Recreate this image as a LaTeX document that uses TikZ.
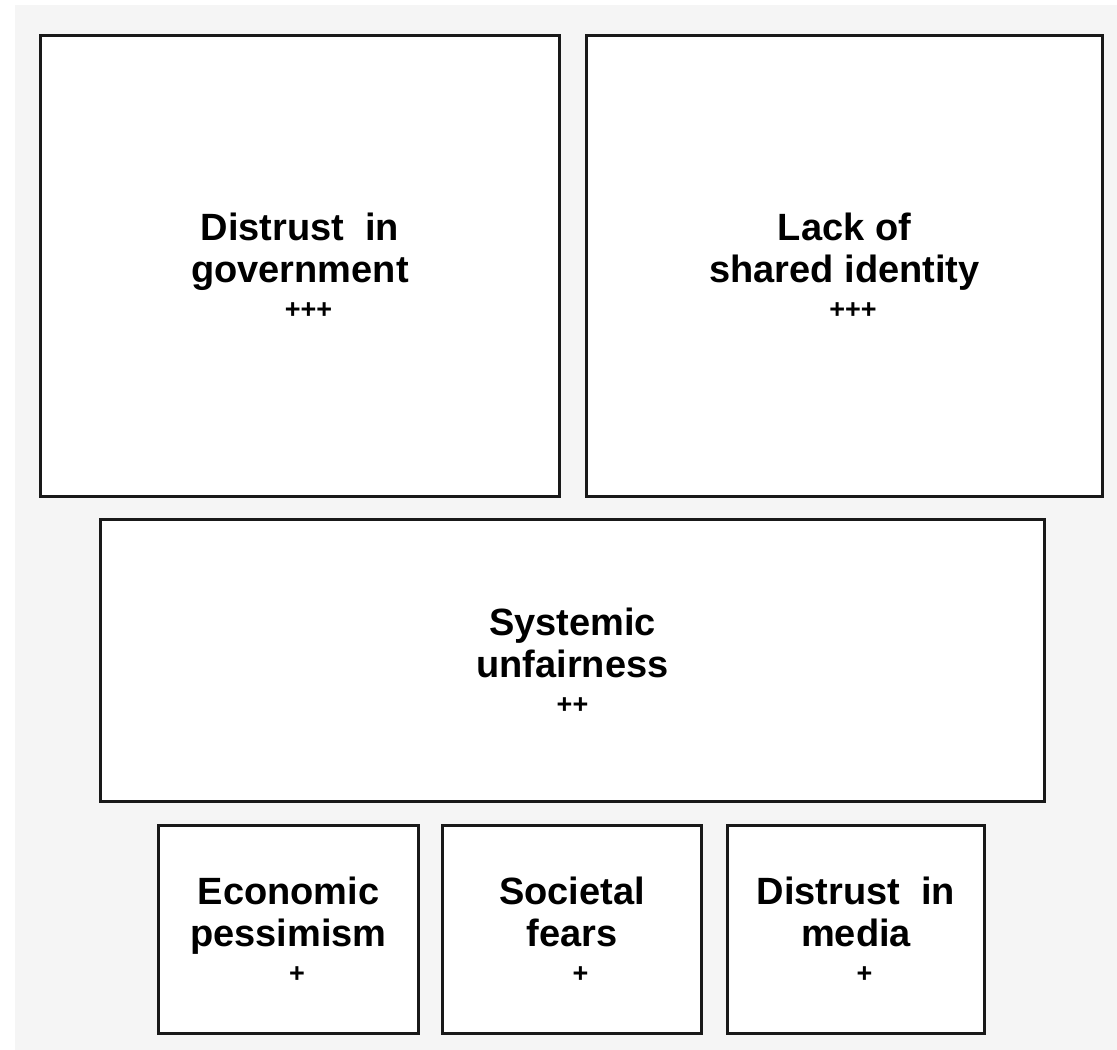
\documentclass[tikz,border=0pt]{standalone}
\usepackage{fontspec}
\setmainfont{Liberation Sans}
\usepackage{xcolor}
\usetikzlibrary{positioning}

\newcommand{\bigtxt}{\fontsize{38}{42}\selectfont\bfseries}
\newcommand{\plustxt}{\fontsize{27}{32}\selectfont\bfseries}

\begin{document}
\begin{tikzpicture}[x=1pt,y=-1pt,
  factor/.style={draw=black!90, line width=2.6pt, fill=white, inner sep=0pt,
    align=center, font=\bigtxt},
  ]

\useasboundingbox (0,0) rectangle (1117,1050);

% Fundo
\fill[gray!8] (15,5) rectangle (1117,1050);

% Fatores principais
\node[factor, minimum width=519pt, minimum height=461pt] (gov) at (300,266)
  {Distrust\ \ in\\ government\\[-6pt] \plustxt\hspace{17pt}+++};
\node[factor, minimum width=516pt, minimum height=461pt] (ident) at (844.5,266)
  {Lack of\\ shared identity\\[-6pt] \plustxt\hspace{17pt}+++};

% Fator intermediario
\node[factor, minimum width=944pt, minimum height=282pt] (unfair) at (572.5,660.5)
  {Systemic\\ unfairness\\[-6pt] \plustxt ++};

% Fatores menores
\node[factor, minimum width=260pt, minimum height=208pt] (econ) at (288.5,929.5)
  {Economic\\ pessimism\\[-6pt] \plustxt\hspace{17pt}+};
\node[factor, minimum width=259pt, minimum height=208pt] (fears) at (572,929.5)
  {Societal\\ fears\\[-6pt] \plustxt\hspace{17pt}+};
\node[factor, minimum width=257pt, minimum height=208pt] (media) at (856,929.5)
  {Distrust\ \ in\\ media\\[-6pt] \plustxt\hspace{17pt}+};

\end{tikzpicture}
\end{document}
